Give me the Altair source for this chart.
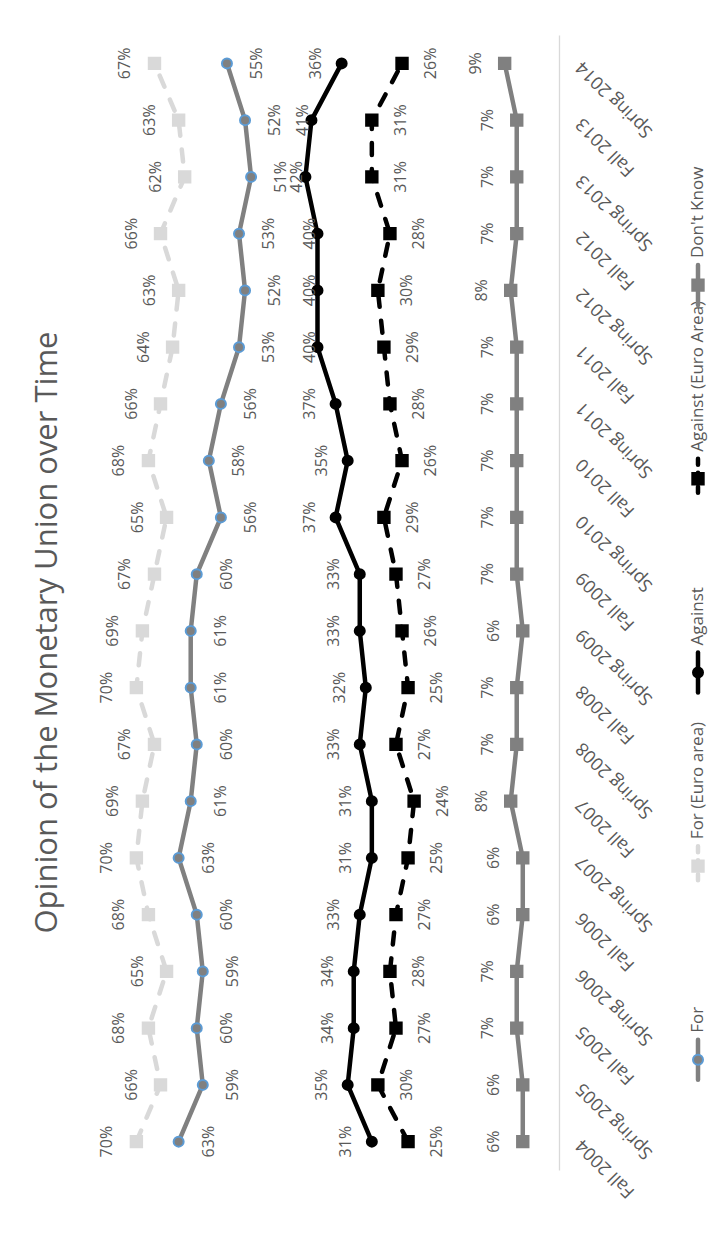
import altair as alt
import pandas as pd

# Survey waves, oldest first
periods = [
    "Fall 2004", "Spring 2005", "Fall 2005", "Spring 2006", "Fall 2006",
    "Spring 2007", "Fall 2007", "Spring 2008", "Fall 2008", "Spring 2009",
    "Fall 2009", "Spring 2010", "Fall 2010", "Spring 2011", "Fall 2011",
    "Spring 2012", "Fall 2012", "Spring 2013", "Fall 2013", "Spring 2014",
]

series_names = ["For", "For (Euro area)", "Against", "Against (Euro Area)", "Don't Know"]

# Shares of respondents, in percent
for_all = [63, 59, 60, 59, 60, 63, 61, 60, 61, 61, 60, 56, 58, 56, 53, 52, 53, 51, 52, 55]
for_euro = [70, 66, 68, 65, 68, 70, 69, 67, 70, 69, 67, 65, 68, 66, 64, 63, 66, 62, 63, 67]
against_all = [31, 35, 34, 34, 33, 31, 31, 33, 32, 33, 33, 37, 35, 37, 40, 40, 40, 42, 41, 36]
against_euro = [25, 30, 27, 28, 27, 25, 24, 27, 25, 26, 27, 29, 26, 28, 29, 30, 28, 31, 31, 26]
dont_know = [6, 6, 7, 7, 6, 6, 8, 7, 7, 6, 7, 7, 7, 7, 7, 8, 7, 7, 7, 9]

series_values = [for_all, for_euro, against_all, against_euro, dont_know]

rows = []
for name, vals in zip(series_names, series_values):
    for i, (p, v) in enumerate(zip(periods, vals)):
        rows.append({"period": p, "idx": i, "series": name, "value": v})
df = pd.DataFrame(rows)

FONT = "Open Sans"
TXT = "#595959"
PLOT_W, PLOT_H = 483, 1135

style = {
    "For": dict(color="#808080", dash=None, shape="circle", fill="#808080",
                stroke="#5B9BD5", size=100, label_dx=30),
    "For (Euro area)": dict(color="#D9D9D9", dash=[12, 14], shape="square", fill="#D9D9D9",
                            stroke="#D9D9D9", size=130, label_dx=-29),
    "Against": dict(color="#000000", dash=None, shape="circle", fill="#000000",
                    stroke="#000000", size=100, label_dx=-26),
    "Against (Euro Area)": dict(color="#000000", dash=[12, 14], shape="square", fill="#000000",
                                stroke="#000000", size=130, label_dx=29),
    "Don't Know": dict(color="#808080", dash=None, shape="square", fill="#808080",
                       stroke="#808080", size=130, label_dx=-29),
}

# Where the "Against" line runs close to the "For" line, its labels hug the
# line so they stay clear of the "For" labels
against_labels_close = periods[-6:-1]
AGAINST_CLOSE_DX = -8

x_enc = alt.X("value:Q", scale=alt.Scale(domain=[0, 80], reverse=True, nice=False), axis=None)
y_enc = alt.Y(
    "period:N",
    sort=list(reversed(periods)),
    title=None,
    axis=alt.Axis(
        orient="right", ticks=False, grid=False,
        domainColor="#D9D9D9", domainWidth=1.3,
        labelAngle=225, labelAlign="right", labelBaseline="middle",
        labelPadding=20, labelFontSize=18, labelColor=TXT, labelFont=FONT,
    ),
)

base = alt.Chart(df).encode(x=x_enc, y=y_enc, order=alt.Order("idx:Q"))

text_kw = dict(angle=270, align="center", baseline="middle", fontSize=16, font=FONT, color=TXT)

layers = []
for name in series_names:
    s = style[name]
    sub = base.transform_filter(alt.datum.series == name)
    line_kw = dict(color=s["color"], strokeWidth=4.5, strokeCap="round", strokeJoin="round")
    if s["dash"]:
        line_kw["strokeDash"] = s["dash"]
    layers.append(sub.mark_line(**line_kw))
    layers.append(sub.mark_point(shape=s["shape"], filled=True, fill=s["fill"], stroke=s["stroke"],
                                 strokeWidth=2, size=s["size"], opacity=1))
    labelled = sub.transform_calculate(label="datum.value + '%'")
    if name == "Against":
        close = alt.FieldOneOfPredicate(field="period", oneOf=against_labels_close)
        layers.append(
            labelled.transform_filter(~close)
            .mark_text(xOffset=s["label_dx"], **text_kw).encode(text="label:N")
        )
        layers.append(
            labelled.transform_filter(close)
            .mark_text(xOffset=AGAINST_CLOSE_DX, **text_kw).encode(text="label:N")
        )
    else:
        layers.append(labelled.mark_text(xOffset=s["label_dx"], **text_kw).encode(text="label:N"))

main = alt.layer(*layers)

# Legend drawn along the right edge, reading bottom to top
legend_order = list(reversed(series_names))
legend_df = pd.DataFrame({"series": series_names})
ly = alt.Y("series:N", scale=alt.Scale(domain=legend_order, padding=0.86, align=0.71), axis=None)
LX = PLOT_W + 139
legend_layers = []
for name in series_names:
    s = style[name]
    lb = alt.Chart(legend_df).transform_filter(alt.datum.series == name).encode(y=ly, x=alt.value(LX))
    rule_kw = dict(color=s["color"], strokeWidth=4.5, strokeCap="round", yOffset=-20, y2Offset=20)
    if s["dash"]:
        rule_kw["strokeDash"] = [6, 8]
    legend_layers.append(lb.mark_rule(**rule_kw).encode(y2=alt.Y2("series:N")))
    legend_layers.append(lb.mark_point(shape=s["shape"], filled=True, fill=s["fill"], stroke=s["stroke"],
                                       strokeWidth=2, size=s["size"], opacity=1))
    legend_layers.append(lb.mark_text(angle=270, yOffset=-27, align="left", baseline="middle",
                                      fontSize=17, font=FONT, color=TXT).encode(text="series:N"))
legend = alt.layer(*legend_layers)

chart = (
    alt.layer(main, legend)
    .resolve_scale(y="independent")
    .properties(
        width=PLOT_W,
        height=PLOT_H,
        title=alt.TitleParams(
            "Opinion of the Monetary Union over Time",
            orient="left", anchor="middle", fontSize=31, font=FONT,
            color=TXT, fontWeight="normal", offset=12, dx=-30,
        ),
        padding={"left": 31, "top": 35, "right": 5, "bottom": 5},
    )
    .configure_view(stroke=None)
)

chart.save("out.html", embed_options={"renderer": "svg", "actions": False})
